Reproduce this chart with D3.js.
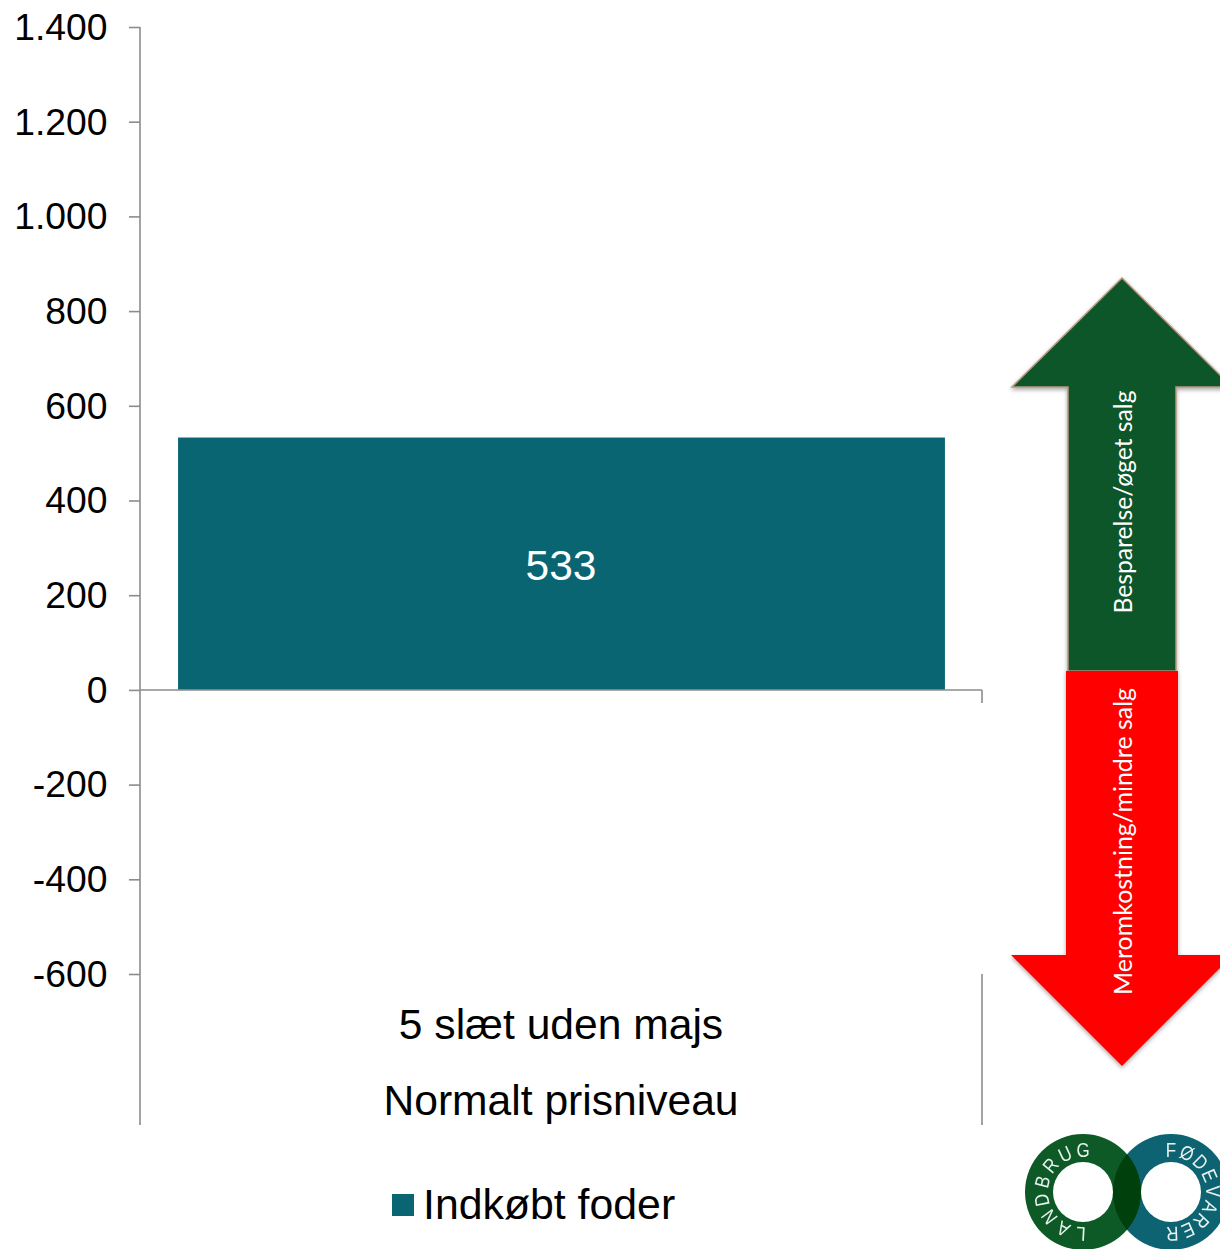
<!DOCTYPE html>
<html><head><meta charset="utf-8">
<script src="https://cdn.jsdelivr.net/npm/d3@7/dist/d3.min.js"></script>
<style>html,body{margin:0;padding:0;background:#fff;overflow:hidden}svg{display:block}</style>
</head><body><svg id="c" width="1220" height="1249"></svg>
<script>
const categoryLines = ["5 slæt uden majs", "Normalt prisniveau"];
const categories = ["5 slæt uden majs Normalt prisniveau"];
const seriesName = "Indkøbt foder";
const seriesValues = [533];
const yTicks = [1400,1200,1000,800,600,400,200,0,-200,-400,-600];
const tickLabels = ["1.400","1.200","1.000","800","600","400","200","0","-200","-400","-600"];
const arrowUpLabel = "Besparelse/øget salg";
const arrowDownLabel = "Meromkostning/mindre salg";
const logoLeft = "LANDBRUG", logoRight = "FØDEVARER";

const svg = d3.select("#c");
const AX="#8c8c8c", TEAL="#096572", SANS="'Liberation Sans',Arial,sans-serif";
const y = d3.scaleLinear().domain([-600,1400]).range([974,27]);
const x = d3.scaleBand().domain(categories).range([140.5,982.5]).padding(0.0467);

const defs = svg.append("defs");
const f = defs.append("filter").attr("id","sh").attr("x","-20%").attr("y","-20%").attr("width","140%").attr("height","140%");
f.append("feDropShadow").attr("dx",0).attr("dy",2).attr("stdDeviation",2).attr("flood-color","#000").attr("flood-opacity",0.35);
defs.append("filter").attr("id","soft").append("feGaussianBlur").attr("stdDeviation",0.5);

// bar
svg.selectAll("rect.bar").data(seriesValues).join("rect").attr("class","bar")
  .attr("x",x(categories[0])).attr("width",x.bandwidth())
  .attr("y",d=>y(d)).attr("height",d=>y(0)-y(d)).attr("fill",TEAL);
svg.selectAll("text.val").data(seriesValues).join("text").attr("class","val")
  .attr("x",561).attr("y",d=>(y(d)+y(0))/2+16)
  .attr("text-anchor","middle").attr("fill","#fff").attr("font-family",SANS).attr("font-size",42.5).text(d=>d);

// axes
const yAxis = d3.axisLeft(y).tickValues(yTicks).tickSize(11).tickPadding(21.5)
  .tickFormat(d=>tickLabels[yTicks.indexOf(d)]);
const gy = svg.append("g").attr("transform","translate(140,0)").call(yAxis);
gy.select(".domain").remove();
gy.selectAll("line").attr("stroke",AX).attr("stroke-width",1.6);
gy.selectAll("text").attr("font-family",SANS).attr("font-size",37.3).attr("fill","#000").attr("dy","0.33em");
const lines = [[140,27,140,1125],[140,690,982,690],[982,690,982,703],[982,974,982,1125]];
svg.selectAll("line.ax").data(lines).join("line").attr("class","ax")
  .attr("x1",d=>d[0]).attr("y1",d=>d[1]).attr("x2",d=>d[2]).attr("y2",d=>d[3])
  .attr("stroke",AX).attr("stroke-width",1.6);

// category labels
svg.selectAll("text.cat").data(categoryLines).join("text").attr("class","cat")
  .attr("x",561).attr("y",(d,i)=>1039+i*76).attr("text-anchor","middle")
  .attr("font-family",SANS).attr("font-size",42.6).attr("fill","#000").text(d=>d);

// legend
svg.append("rect").attr("x",392).attr("y",1194).attr("width",22).attr("height",22).attr("fill",TEAL);
svg.append("text").attr("x",423).attr("y",1219).attr("font-family",SANS).attr("font-size",42.8).attr("fill","#000").text(seriesName);

// arrows
const line = d3.line();
svg.append("path").attr("d",line([[1122,278],[1232,387],[1176,387],[1176,671],[1068,671],[1068,387],[1012,387]])+"Z")
  .attr("fill","#0b572c").attr("stroke","#b8967a").attr("stroke-width",1.5).attr("filter","url(#sh)");
svg.append("path").attr("d",line([[1066,671],[1178,671],[1178,955],[1233,955],[1122,1066],[1011,955],[1066,955]])+"Z")
  .attr("fill","#ff0000").attr("filter","url(#sh)");
const vt=(t,yy,len)=>svg.append("text").attr("transform",`translate(1132,${yy}) rotate(-90)`)
  .attr("font-family","Lato,'Open Sans',sans-serif").attr("font-size",24.8).attr("fill","#fff")
  .attr("textLength",len).attr("lengthAdjust","spacingAndGlyphs").text(t);
vt(arrowUpLabel,613.5,223); vt(arrowDownLabel,995,307);

// logo
const arc = d3.arc().innerRadius(30).outerRadius(58).startAngle(0).endAngle(2*Math.PI);
const LX=1083,RX=1171,LY=1192;
const logo = svg.append("g").attr("filter","url(#soft)");
logo.append("path").attr("transform",`translate(${RX},${LY})`).attr("d",arc()).attr("fill","#0b6472");
logo.append("path").attr("transform",`translate(${LX},${LY})`).attr("d",arc()).attr("fill","#0c5a26");
defs.append("clipPath").attr("id","ov").append("path").attr("transform",`translate(${RX},${LY})`).attr("d",arc());
logo.append("g").attr("clip-path","url(#ov)").append("path").attr("transform",`translate(${LX},${LY})`).attr("d",arc()).attr("fill","#033f0f");
const ring=(word,cx,a0,a1)=>{
  const s=d3.scalePoint().domain(d3.range(word.length)).range([a0,a1]);
  logo.selectAll(null).data([...word]).join("text")
    .attr("transform",(d,i)=>`translate(${cx},${LY}) rotate(${s(i)}) translate(0,-35) scale(0.85,1)`)
    .attr("text-anchor","middle").attr("font-family",SANS).attr("font-size",20).attr("fill","#e8f2ee").text(d=>d);
};
ring(logoLeft,LX,183,360);
ring(logoRight,RX,0,178);
</script></body></html>
